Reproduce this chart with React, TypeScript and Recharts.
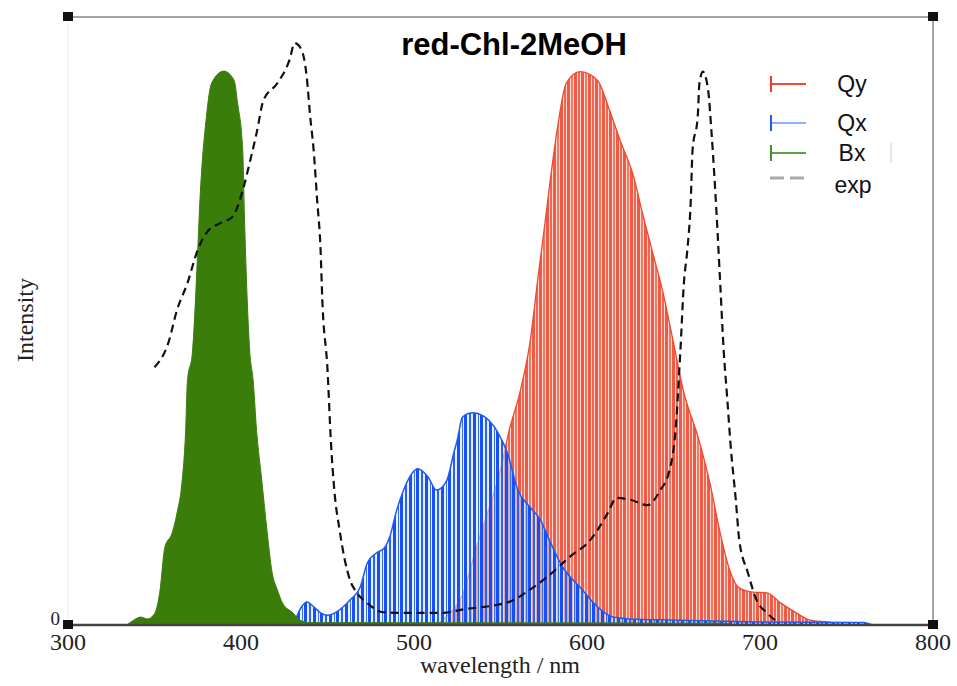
import { Area, ComposedChart, Line, XAxis, YAxis } from "recharts";

// wavelength (nm) / intensity pairs
const QY: [number, number][] = [
  [515, 0.005], [521, 0.02], [528, 0.049], [536, 0.127], [544, 0.197],
  [550, 0.255], [555, 0.32], [561, 0.38], [567, 0.464], [572, 0.579],
  [575, 0.645], [579, 0.737], [583, 0.819], [588, 0.891], [596, 0.91],
  [606, 0.896], [613, 0.847], [619, 0.798], [627, 0.737], [632, 0.678],
  [638, 0.612], [644, 0.546], [650, 0.464], [656, 0.382], [664, 0.311],
  [671, 0.234], [677, 0.151], [683, 0.086], [688, 0.061], [696, 0.054],
  [704, 0.053], [712, 0.036], [721, 0.02], [729, 0.008], [739, 0.005],
  [749, 0],
];

const QX: [number, number][] = [
  [428, 0], [431, 0.008], [435, 0.03], [438, 0.038], [442, 0.03],
  [446, 0.02], [450, 0.016], [457, 0.025], [463, 0.041], [469, 0.063],
  [473, 0.102], [478, 0.118], [483, 0.127], [486, 0.145], [490, 0.189],
  [494, 0.222], [499, 0.25], [502, 0.257], [508, 0.244], [513, 0.222],
  [519, 0.238], [523, 0.283], [525, 0.304], [528, 0.342], [534, 0.349],
  [540, 0.344], [548, 0.319], [554, 0.283], [560, 0.222], [567, 0.194],
  [573, 0.173], [579, 0.135], [586, 0.095], [596, 0.062], [606, 0.03],
  [615, 0.013], [625, 0.01], [650, 0.008], [700, 0.005], [760, 0.004],
  [765, 0],
];

const BX: [number, number][] = [
  [334, 0], [338, 0.008], [342, 0.013], [346, 0.01], [349, 0.015],
  [351, 0.025], [353, 0.053], [356, 0.128], [360, 0.15], [363, 0.184],
  [366, 0.238], [368, 0.32], [369, 0.4], [372, 0.451], [375, 0.617],
  [376, 0.683], [380, 0.836], [383, 0.891], [390, 0.911], [396, 0.896],
  [398, 0.859], [401, 0.781], [402, 0.671], [404, 0.507], [405, 0.452],
  [407, 0.403], [409, 0.32], [412, 0.238], [415, 0.156], [418, 0.086],
  [421, 0.058], [424, 0.036], [430, 0.02], [434, 0.008], [440, 0.004],
  [680, 0.003], [685, 0],
];

const EXP: [number, number][] = [
  [350, 0.424], [358, 0.464], [363, 0.518], [369, 0.562], [375, 0.617],
  [380, 0.645], [388, 0.661], [395, 0.671], [401, 0.715], [405, 0.76],
  [409, 0.809], [413, 0.863], [421, 0.891], [428, 0.929], [431, 0.957],
  [435, 0.946], [438, 0.901], [440, 0.836], [442, 0.781], [444, 0.699],
  [446, 0.617], [447, 0.535], [450, 0.42], [452, 0.3], [454, 0.22],
  [457, 0.156], [460, 0.107], [463, 0.074], [467, 0.053], [473, 0.036],
  [482, 0.021], [494, 0.02], [505, 0.02], [517, 0.02], [527, 0.025],
  [555, 0.038], [567, 0.058], [577, 0.079], [590, 0.112], [602, 0.14],
  [612, 0.184], [617, 0.209], [625, 0.206], [635, 0.197], [642, 0.22],
  [648, 0.258], [651, 0.314], [654, 0.452], [656, 0.562], [658, 0.617],
  [660, 0.699], [661, 0.781], [664, 0.836], [665, 0.891], [667, 0.91],
  [670, 0.88], [672, 0.809], [675, 0.671], [677, 0.562], [679, 0.452],
  [681, 0.375], [683, 0.296], [686, 0.206], [688, 0.14], [693, 0.086],
  [698, 0.041], [704, 0.02], [710, 0.005],
];

const X_TICKS = [300, 400, 500, 600, 700, 800];
const Y_TICKS = [0];

type Row = { nm: number; qy?: number; qx?: number; bx?: number; exp?: number };

const buildRows = (): Row[] => {
  const rows = new Map<number, Row>();
  const add = (key: "qy" | "qx" | "bx" | "exp", pts: [number, number][]) => {
    pts.forEach(([nm, v]) => {
      const row = rows.get(nm) ?? { nm };
      row[key] = v;
      rows.set(nm, row);
    });
  };
  add("qy", QY);
  add("qx", QX);
  add("bx", BX);
  add("exp", EXP);
  return Array.from(rows.values()).sort((a, b) => a.nm - b.nm);
};

const data = buildRows();

const SERIF = "'Liberation Serif', 'Times New Roman', serif";
const SANS = "'Liberation Sans', Arial, sans-serif";

// plot box, matches the chart margins below
const L = 68;
const R = 933;
const T = 17;
const B = 625;

const LEGEND = [
  { label: "Qy", y: 84, tick: "#ef3b25", line: "#ef4a33" },
  { label: "Qx", y: 123, tick: "#1f5cf5", line: "#8fb0ff" },
  { label: "Bx", y: 153, tick: "#3f9128", line: "#5fa048" },
];

// the "0" sits just above the "300", as in the original
const YTick = (props: any) => {
  const { x, y, payload } = props;
  return (
    <text x={x} y={y - 7} dy="0.355em" textAnchor="end" fontFamily={SERIF} fontSize={19} fill="#222">
      {payload.value}
    </text>
  );
};

const Overlay = () => (
  <svg
    width={957}
    height={686}
    style={{ position: "absolute", left: 0, top: 0, pointerEvents: "none" }}
  >
    <line x1={L} y1={T} x2={L} y2={B} stroke="#ececec" strokeWidth={1} />
    <line x1={L} y1={T} x2={R} y2={T} stroke="#a5a5a5" strokeWidth={2} />
    <line x1={R} y1={T} x2={R} y2={B} stroke="#a5a5a5" strokeWidth={2} />
    <line x1={L} y1={B} x2={R} y2={B} stroke="#444" strokeWidth={2.5} />
    {[
      [L, T],
      [R, T],
      [L, B],
      [R, B],
    ].map(([x, y]) => (
      <rect key={`${x}-${y}`} x={x - 5} y={y - 5} width={10} height={9} fill="#111" />
    ))}

    <text x={514} y={55} textAnchor="middle" fontFamily={SANS} fontWeight="bold" fontSize={31} fill="#000">
      red-Chl-2MeOH
    </text>
    <text
      x={33}
      y={320}
      transform="rotate(-90 33 320)"
      textAnchor="middle"
      fontFamily={SERIF}
      fontSize={24}
      fill="#222"
    >
      Intensity
    </text>
    <text x={500} y={673} textAnchor="middle" fontFamily={SERIF} fontSize={24} fill="#222">
      wavelength / nm
    </text>

    {LEGEND.map((item) => (
      <g key={item.label}>
        <line x1={771} y1={item.y} x2={806} y2={item.y} stroke={item.line} strokeWidth={2} />
        <line x1={771} y1={item.y - 8} x2={771} y2={item.y + 8} stroke={item.tick} strokeWidth={2} />
        <text x={852} y={item.y + 8} textAnchor="middle" fontFamily={SANS} fontSize={23} fill="#111">
          {item.label}
        </text>
      </g>
    ))}
    <line x1={770} y1={178} x2={806} y2={178} stroke="#aaa" strokeWidth={3} strokeDasharray="14 6" />
    <text x={853} y={193} textAnchor="middle" fontFamily={SANS} fontSize={23} fill="#111">
      exp
    </text>
    <line x1={891} y1={143} x2={891} y2={163} stroke="#ddd" strokeWidth={1.5} />
  </svg>
);

export default function App() {
  return (
    <div style={{ position: "absolute", left: 0, top: 0, width: 957, height: 686, background: "#fff" }}>
      <ComposedChart
        width={957}
        height={686}
        data={data}
        margin={{ top: T, right: 957 - R, left: 0, bottom: 0 }}
      >
        <defs>
          <pattern id="qyStripes" width={14} height={10} patternUnits="userSpaceOnUse">
            <rect x={0} y={0} width={14} height={10} fill="#fcdcd5" />
            <rect x={0} y={0} width={3} height={10} fill="#ee5a44" />
            <rect x={4} y={0} width={2} height={10} fill="#ef6752" />
            <rect x={7} y={0} width={3} height={10} fill="#ee5a44" />
            <rect x={11} y={0} width={2} height={10} fill="#f27a67" />
          </pattern>
          <pattern id="qxStripes" width={16} height={10} patternUnits="userSpaceOnUse">
            <rect x={0} y={0} width={16} height={10} fill="#d6e3ff" fillOpacity={0.55} />
            <rect x={0} y={0} width={3} height={10} fill="#1650f2" />
            <rect x={5} y={0} width={2} height={10} fill="#2a62f5" />
            <rect x={9} y={0} width={3} height={10} fill="#1650f2" />
            <rect x={14} y={0} width={1} height={10} fill="#3a6ff6" />
          </pattern>
        </defs>
        <XAxis
          dataKey="nm"
          type="number"
          domain={[300, 800]}
          ticks={X_TICKS}
          height={686 - B}
          axisLine={false}
          tickLine={false}
          tick={{ fontFamily: SERIF, fontSize: 24, fill: "#222" }}
        />
        <YAxis
          type="number"
          domain={[0, 1]}
          ticks={Y_TICKS}
          width={L}
          axisLine={false}
          tickLine={false}
          tick={<YTick />}
        />
        <Area
          dataKey="qy"
          type="monotone"
          connectNulls
          stroke="#ec4a30"
          strokeWidth={1.3}
          fill="url(#qyStripes)"
          fillOpacity={1}
          isAnimationActive={false}
        />
        <Area
          dataKey="qx"
          type="monotone"
          connectNulls
          stroke="#1d5bf5"
          strokeWidth={1.5}
          fill="url(#qxStripes)"
          fillOpacity={1}
          isAnimationActive={false}
        />
        <Area
          dataKey="bx"
          type="monotone"
          connectNulls
          stroke="#3b7d0b"
          strokeWidth={1}
          fill="#3b7d0b"
          fillOpacity={1}
          isAnimationActive={false}
        />
        <Line
          dataKey="exp"
          type="monotone"
          connectNulls
          stroke="#111"
          strokeWidth={2.2}
          strokeDasharray="8 5"
          dot={false}
          isAnimationActive={false}
        />
      </ComposedChart>
      <Overlay />
    </div>
  );
}
